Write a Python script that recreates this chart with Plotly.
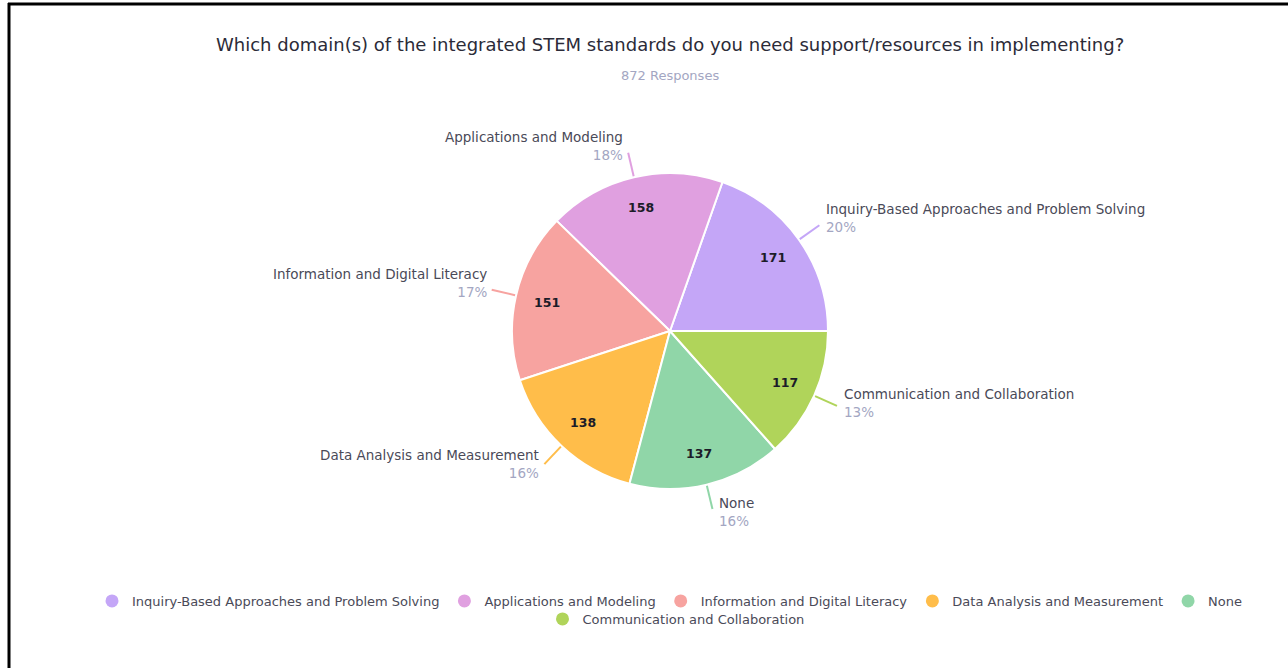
import math
import plotly.graph_objects as go

# ---- data ----
labels = [
    "Inquiry-Based Approaches and Problem Solving",
    "Applications and Modeling",
    "Information and Digital Literacy",
    "Data Analysis and Measurement",
    "None",
    "Communication and Collaboration",
]
values = [171, 158, 151, 138, 137, 117]
colors = ["#c4a6f7", "#e0a0e0", "#f7a3a0", "#ffbd4a", "#90d6a8", "#b0d45a"]
title_text = "Which domain(s) of the integrated STEM standards do you need support/resources in implementing?"
subtitle_text = "872 Responses"

# ---- layout geometry (pixels) ----
W, H = 1288, 668
CX, CY, R = 670, 331, 158
FONT = "DejaVu Sans"
NAME_COLOR = "#4a4a58"
PCT_COLOR = "#a3a6c2"


def px(x):
    return x / W


def py(y):
    return 1 - y / H


total = sum(values)
# plotly (counterclockwise): first slice ends at `rotation`; we want it to start at 3 o'clock
rotation = 90 - values[0] / total * 360

fig = go.Figure()
fig.add_trace(go.Pie(
    labels=labels, values=values, sort=False, direction="counterclockwise",
    rotation=rotation, marker=dict(colors=colors, line=dict(color="white", width=2)),
    textinfo="none", hoverinfo="label+value+percent", showlegend=False,
    domain=dict(x=[px(CX - R), px(CX + R)], y=[py(CY + R), py(CY - R)]),
))

# legend entries with circle markers
for i, (lab, col) in enumerate(zip(labels, colors)):
    fig.add_trace(go.Scatter(
        x=[None], y=[None], mode="markers", name=lab,
        marker=dict(symbol="circle", size=13, color=col),
        legend="legend" if i < 5 else "legend2", hoverinfo="skip",
    ))

annotations = []
shapes = []
cum = 0
for lab, val, col in zip(labels, values, colors):
    mid = (cum + val / 2) / total * 2 * math.pi
    cum += val
    c, s = math.cos(mid), math.sin(mid)
    # value inside slice
    annotations.append(dict(
        x=px(CX + 0.8 * R * c), y=py(CY - 0.8 * R * s), xref="paper", yref="paper",
        xanchor="center", yanchor="middle",
        text=str(val), showarrow=False,
        font=dict(family=FONT, size=12.5, color="#1c1c28", weight=600),
    ))
    # leader line
    x0, y0 = CX + (R + 1) * c, CY - (R + 1) * s
    x1, y1 = CX + (R + 25) * c, CY - (R + 25) * s
    shapes.append(dict(type="line", xref="paper", yref="paper",
                       x0=px(x0), y0=py(y0), x1=px(x1), y1=py(y1),
                       line=dict(color=col, width=2)))
    pct = round(val / total * 100)
    yoff = -7 + 10 * max(0.0, -s)
    right = c >= 0
    annotations.append(dict(
        x=px(x1 + (5 if right else -3)), y=py(y1 + yoff), xref="paper", yref="paper",
        xanchor="left" if right else "right", yanchor="middle",
        align="left" if right else "right", showarrow=False,
        text=f"{lab}<br><span style='color:{PCT_COLOR}'>{pct}%</span>",
        font=dict(family=FONT, size=13.5, color=NAME_COLOR),
    ))

annotations.append(dict(x=px(670), y=py(45), xref="paper", yref="paper", showarrow=False,
                        xanchor="center", yanchor="middle",
                        text=title_text, font=dict(family=FONT, size=18, color="#2b2b38")))
annotations.append(dict(x=px(670), y=py(75), xref="paper", yref="paper", showarrow=False,
                        xanchor="center", yanchor="middle",
                        text=subtitle_text, font=dict(family=FONT, size=13, color="#a3a6c2")))

# frame lines
shapes.append(dict(type="line", xref="paper", yref="paper", x0=px(9), x1=px(9), y0=py(3), y1=py(668),
                   line=dict(color="black", width=3)))
shapes.append(dict(type="line", xref="paper", yref="paper", x0=px(8), x1=px(1288), y0=py(4), y1=py(4),
                   line=dict(color="black", width=3)))

fig.update_layout(
    width=W, height=H, margin=dict(l=0, r=0, t=0, b=0),
    paper_bgcolor="white", plot_bgcolor="white",
    xaxis=dict(visible=False), yaxis=dict(visible=False),
    annotations=annotations, shapes=shapes,
    legend=dict(orientation="h", x=px(670), xanchor="center", y=py(601), yanchor="middle",
                bgcolor="rgba(0,0,0,0)",
                font=dict(family=FONT, size=13, color=NAME_COLOR), itemwidth=30),
    legend2=dict(orientation="h", x=px(676), xanchor="center", y=py(619), yanchor="middle",
                 bgcolor="rgba(0,0,0,0)",
                 font=dict(family=FONT, size=13, color=NAME_COLOR), itemwidth=30),
)

fig.write_html("out.html")
